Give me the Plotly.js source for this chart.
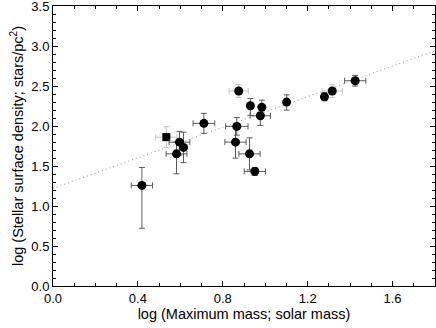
<!DOCTYPE html>
<html>
<head>
<meta charset="utf-8">
<script src="https://cdn.plot.ly/plotly-3.0.1.min.js"></script>
<style>
  html, body { margin: 0; padding: 0; background: #fff; }
  #plot { width: 436px; height: 328px; }
</style>
</head>
<body>
<div id="plot"></div>
<script>
// clusters with solid error bars
const massX = [0.419, 0.582, 0.596, 0.615, 0.711, 0.860, 0.866, 0.926, 0.930, 0.951, 0.977, 0.984, 1.101, 1.279, 1.424];
const densY = [1.257, 1.652, 1.798, 1.732, 2.033, 1.798, 1.995, 1.652, 2.253, 1.432, 2.128, 2.233, 2.299, 2.366, 2.566];
const errX  = [0.05, 0.049, 0.049, 0, 0.051, 0.05, 0.053, 0.05, 0, 0.05, 0.048, 0, 0, 0, 0.05];
const errYp = [0.225, 0.15, 0.135, 0.19, 0.125, 0.2, 0.11, 0.2, 0.09, 0.05, 0.11, 0.09, 0.09, 0.05, 0.067];
const errYm = [0.535, 0.25, 0.16, 0.19, 0.125, 0.2, 0.11, 0.2, 0.12, 0.05, 0.12, 0.09, 0.1, 0.05, 0.067];

// clusters with faint error bars
const faintX = [0.875, 1.316];
const faintY = [2.437, 2.437];
const faintEX = [0.045, 0.048];
const faintEY = [0.08, 0.08];

// square marker
const sqX = [0.534];
const sqY = [1.861];
const sqEX = [0.05];
const sqEY = [0.13];

// dotted fit line
const fitX = [0, 1.8];
const fitY = [1.22, 2.94];

const barColor = "#5a5a5a";
const faintColor = "#c4c4c4";

const data = [
  {x: fitX, y: fitY, mode: "lines", type: "scatter",
   line: {color: "#999", width: 1, dash: "1px,3px"}},
  {x: faintX, y: faintY, mode: "markers", type: "scatter",
   marker: {color: "black", size: 9},
   error_x: {type: "data", array: faintEX, color: faintColor, thickness: 1, width: 3},
   error_y: {type: "data", array: faintEY, color: faintColor, thickness: 1, width: 3}},
  {x: sqX, y: sqY, mode: "markers", type: "scatter",
   marker: {color: "black", size: 8, symbol: "square"},
   error_x: {type: "data", array: sqEX, color: faintColor, thickness: 1, width: 3},
   error_y: {type: "data", array: sqEY, color: faintColor, thickness: 1, width: 3}},
  {x: massX, y: densY, mode: "markers", type: "scatter",
   marker: {color: "black", size: 9},
   error_x: {type: "data", array: errX, color: barColor, thickness: 1, width: 3},
   error_y: {type: "data", symmetric: false, array: errYp, arrayminus: errYm,
             color: barColor, thickness: 1, width: 3}}
];

const tickFont = {family: "Liberation Sans, Arial, sans-serif", size: 13, color: "black"};
const titleFont = {family: "Liberation Sans, Arial, sans-serif", size: 14.5, color: "black"};

const layout = {
  width: 436, height: 328,
  margin: {l: 53, r: 1, t: 6, b: 42},
  paper_bgcolor: "white", plot_bgcolor: "white",
  showlegend: false,
  font: tickFont,
  xaxis: {
    range: [0, 1.8], dtick: 0.4, tick0: 0, tickformat: ".1f",
    ticks: "inside", ticklen: 5, tickcolor: "black", ticklabeloverflow: "allow",
    showline: true, linecolor: "black", linewidth: 1, mirror: "allticks",
    showgrid: false, zeroline: false,
    minor: {dtick: 0.1, ticks: "inside", ticklen: 3, tickcolor: "black"},
    tickfont: tickFont,
    title: {text: "log (Maximum mass; solar mass)", font: titleFont, standoff: 2}
  },
  yaxis: {
    range: [0, 3.5], dtick: 0.5, tick0: 0, tickformat: ".1f",
    ticks: "inside", ticklen: 5, tickcolor: "black", ticklabeloverflow: "allow",
    showline: true, linecolor: "black", linewidth: 1, mirror: "allticks",
    showgrid: false, zeroline: false,
    minor: {dtick: 0.1, ticks: "inside", ticklen: 3, tickcolor: "black"},
    tickfont: tickFont,
    title: {text: "log (Stellar surface density; stars/pc<sup>2</sup>)", font: titleFont, standoff: 4}
  }
};

Plotly.newPlot("plot", data, layout, {staticPlot: true});
</script>
</body>
</html>
